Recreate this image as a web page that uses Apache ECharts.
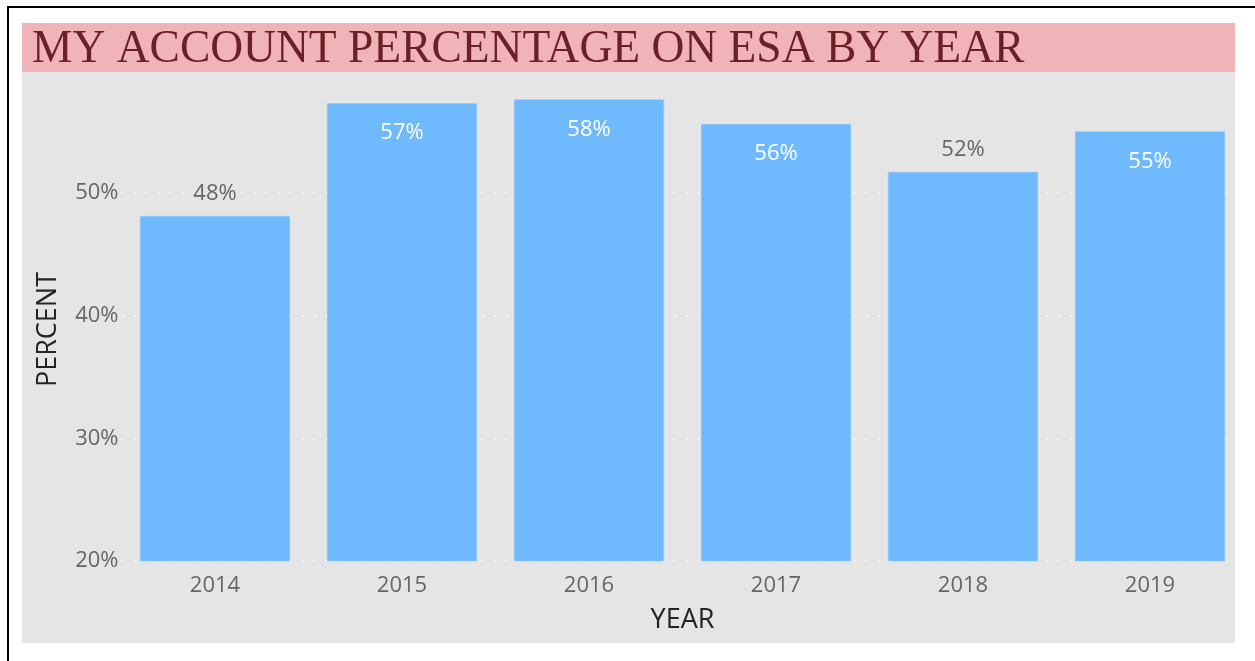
<!DOCTYPE html>
<html>
<head>
<meta charset="utf-8">
<script src="https://cdn.jsdelivr.net/npm/echarts@6/dist/echarts.min.js"></script>
<style>
html,body{margin:0;padding:0;background:#fff;}
#chart{width:1255px;height:661px;}
</style>
</head>
<body>
<div id="chart"></div>
<script>
const titleText = 'MY ACCOUNT PERCENTAGE ON ESA BY YEAR';
const years = ['2014', '2015', '2016', '2017', '2018', '2019'];
const percentValues = [48.1, 57.3, 57.6, 55.6, 51.7, 55.0];
const labelsAboveBar = ['2014', '2018'];
const yTicks = [20, 30, 40, 50, 60];
const xAxisTitle = 'YEAR';
const yAxisTitle = 'PERCENT';

const chart = echarts.init(document.getElementById('chart'), null, {renderer: 'canvas'});
const font = '"Open Sans", "Noto Sans", sans-serif';

const seriesData = percentValues.map((v, i) => {
  const above = labelsAboveBar.includes(years[i]);
  return {
    value: v,
    label: above
      ? {position: 'top', distance: 11, color: '#666666'}
      : {position: 'insideTop', distance: 19, color: '#ffffff'}
  };
});

chart.setOption({
  backgroundColor: '#ffffff',
  animation: false,
  graphic: [
    {type: 'rect', z: -10, shape: {x: 8, y: 7, width: 1260, height: 670}, style: {fill: '#ffffff', stroke: '#000000', lineWidth: 2}},
    {type: 'rect', z: -9, shape: {x: 22, y: 23, width: 1213, height: 620}, style: {fill: '#e5e5e5'}},
    {type: 'rect', z: 100, shape: {x: 22, y: 23, width: 1213, height: 49}, style: {fill: '#f0b4b8'}},
    {type: 'text', z: 101, left: 32, top: 27, style: {text: titleText, font: '45.5px "Liberation Serif", "Times New Roman", serif', fill: '#6b1f26'}}
  ],
  grid: {left: 121.5, right: 11.5, top: 70, bottom: 100, containLabel: false},
  xAxis: {
    type: 'category',
    data: years,
    axisLine: {show: false},
    axisTick: {show: false},
    axisLabel: {color: '#666666', fontFamily: font, fontSize: 22, margin: 14},
    name: xAxisTitle,
    nameLocation: 'middle',
    nameGap: 59,
    nameTextStyle: {color: '#252423', fontFamily: font, fontSize: 27, verticalAlign: 'middle'}
  },
  yAxis: {
    type: 'value',
    min: yTicks[0],
    max: yTicks[yTicks.length - 1],
    interval: yTicks[1] - yTicks[0],
    axisLine: {show: false},
    axisTick: {show: false},
    axisLabel: {color: '#666666', fontFamily: font, fontSize: 22, margin: 3, showMaxLabel: false, formatter: v => v + '%'},
    splitLine: {show: true, lineStyle: {color: '#f6f6f6', width: 1.5, type: [2, 10]}},
    name: yAxisTitle,
    nameLocation: 'middle',
    nameGap: 73,
    nameRotate: 90,
    nameTextStyle: {color: '#252423', fontFamily: font, fontSize: 27, verticalAlign: 'middle', padding: [0, 28, 0, 0]}
  },
  series: [{
    type: 'bar',
    data: seriesData,
    barCategoryGap: '19.8%',
    itemStyle: {color: '#6fb9fe', borderColor: '#8cc8ff', borderWidth: 0.5},
    label: {show: true, fontFamily: font, fontSize: 22, formatter: p => Math.round(p.value) + '%'}
  }]
});
</script>
</body>
</html>
